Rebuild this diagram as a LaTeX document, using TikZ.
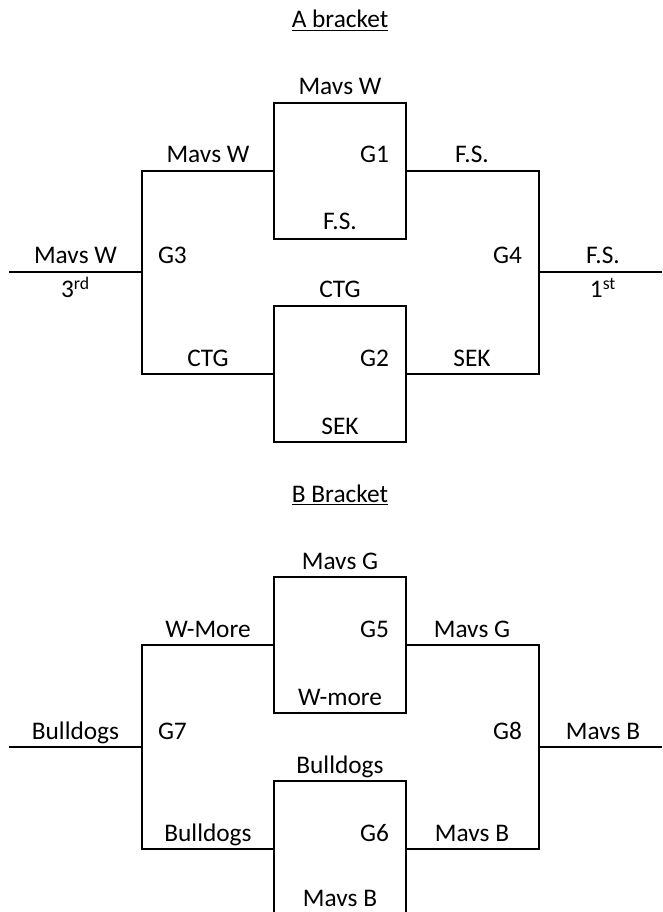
\documentclass[tikz,border=0pt]{standalone}
\usepackage{fontspec}
\setmainfont{Carlito}

\begin{document}
\begin{tikzpicture}[x=0.75pt,y=-0.75pt,line width=1.5pt,
    every node/.style={font=\fontsize{19}{23}\selectfont,inner sep=0pt},
    gamebox/.style={draw,minimum width=99pt,minimum height=101.6pt},
    team/.style={anchor=base},
    gameno/.style={anchor=base east}]
      \clip (0,0) rectangle (662,912);

      %% A bracket
      \node[team] (titleA) at (340,28) {\underline{A bracket}};
      \node[gamebox] (g1) at (340,171) {};
      \node[gamebox] (g2) at (340,374) {};
      \coordinate (g3top) at (142,171);
      \coordinate (g3bot) at (142,374);
      \coordinate (g3mid) at (142,272);
      \coordinate (in3) at (9,272);
      \coordinate (g4top) at (539,171);
      \coordinate (g4bot) at (539,374);
      \coordinate (g4mid) at (539,272);
      \coordinate (out4) at (662,272);

      \draw (g1.west) -- (g3top) -- (g3bot) -- (g2.west);
      \draw (g3mid) -- (in3);
      \draw (g1.east) -- (g4top) -- (g4bot) -- (g2.east);
      \draw (g4mid) -- (out4);

      \node[team] (t1) at (340,95) {Mavs W};
      \node[team] (t2) at (340,230) {F.S.};
      \node[team] (t3) at (208,163) {Mavs W};
      \node[gameno] (n1) at (390,163) {G1};
      \node[team] (t4) at (472,163) {F.S.};
      \node[team] (t5) at (75.5,264) {Mavs W};
      \node[team] (p3) at (75.5,298) {3\textsuperscript{rd}};
      \node[team,anchor=base west] (n3) at (157,264) {G3};
      \node[gameno] (n4) at (523,264) {G4};
      \node[team] (t6) at (603,264) {F.S.};
      \node[team] (p1) at (603,298) {1\textsuperscript{st}};
      \node[team] (t7) at (340,298) {CTG};
      \node[team] (t8) at (340,434) {SEK};
      \node[team] (t9) at (208,366) {CTG};
      \node[gameno] (n2) at (390,366) {G2};
      \node[team] (t10) at (472,366) {SEK};

      %% B bracket
      \node[team] (titleB) at (340,502) {\underline{B Bracket}};
      \node[gamebox] (g5) at (340,645) {};
      \node[gamebox] (g6) at (340,849) {};
      \coordinate (g7top) at (142,645);
      \coordinate (g7bot) at (142,849);
      \coordinate (g7mid) at (142,747);
      \coordinate (in7) at (9,747);
      \coordinate (g8top) at (539,645);
      \coordinate (g8bot) at (539,849);
      \coordinate (g8mid) at (539,747);
      \coordinate (out8) at (662,747);

      \draw (g5.west) -- (g7top) -- (g7bot) -- (g6.west);
      \draw (g7mid) -- (in7);
      \draw (g5.east) -- (g8top) -- (g8bot) -- (g6.east);
      \draw (g8mid) -- (out8);

      \node[team] (s1) at (340,569) {Mavs G};
      \node[team] (s2) at (340,705) {W-more};
      \node[team] (s3) at (208,637) {W-More};
      \node[gameno] (n5) at (390,637) {G5};
      \node[team] (s4) at (472,637) {Mavs G};
      \node[team] (s5) at (75.5,739) {Bulldogs};
      \node[team,anchor=base west] (n7) at (157,739) {G7};
      \node[gameno] (n8) at (523,739) {G8};
      \node[team] (s6) at (603,739) {Mavs B};
      \node[team] (s7) at (340,773) {Bulldogs};
      \node[team] (s8) at (340,906) {Mavs B};
      \node[team] (s9) at (208,841) {Bulldogs};
      \node[gameno] (n6) at (390,841) {G6};
      \node[team] (s10) at (472,841) {Mavs B};
    \end{tikzpicture}
\end{document}
